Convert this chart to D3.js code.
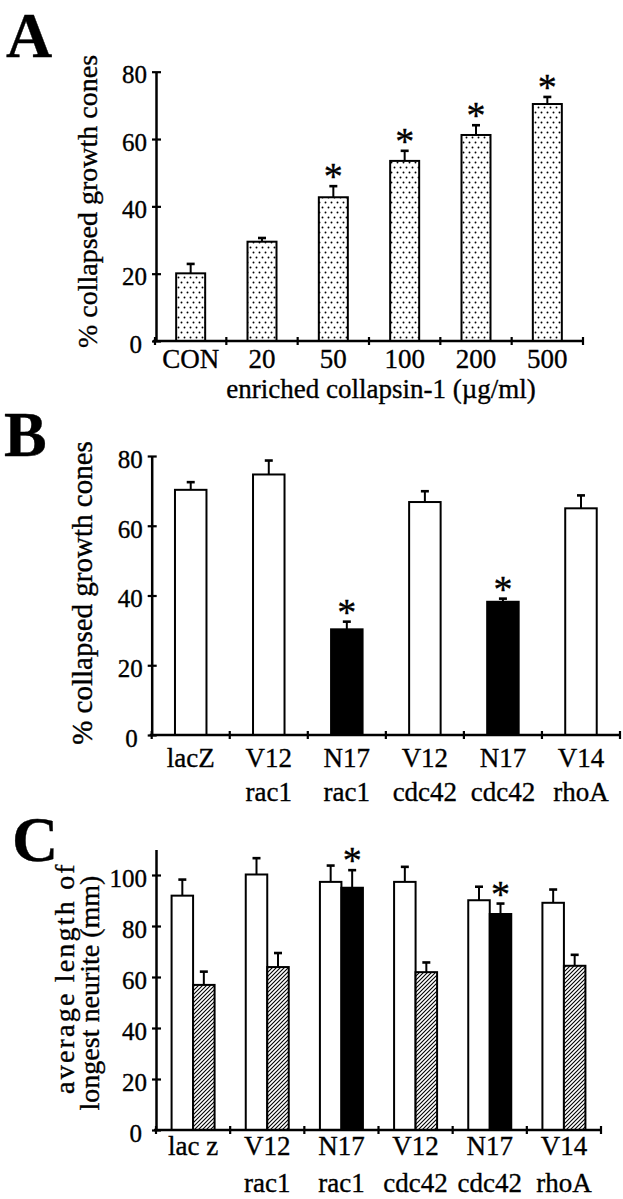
<!DOCTYPE html>
<html><head><meta charset="utf-8">
<script src="https://cdn.jsdelivr.net/npm/d3@7"></script>
<style>
body{margin:0;background:#fff}
svg{display:block}
text{font-family:"Liberation Serif","Times New Roman",serif;fill:#000;stroke:#000;stroke-width:0.35px}
</style>
</head><body>
<svg id="c" width="623" height="1199"></svg>
<script>
// ---------- Panel A data ----------
const catsA = ["CON", "20", "50", "100", "200", "500"];
const valsA = [20.1, 29.5, 42.7, 53.5, 61.2, 70.4];
const semA  = [2.8, 1.1, 3.3, 3.0, 2.9, 2.1];
const sigA  = [false, false, true, true, true, true];
const yTicksA = [0, 20, 40, 60, 80];
const yLabelA = "% collapsed growth cones";
const xTitleA = "enriched collapsin-1 (\u00b5g/ml)";

// ---------- Panel B data ----------
const catsB1 = ["lacZ", "V12", "N17", "V12", "N17", "V14"];
const catsB2 = ["", "rac1", "rac1", "cdc42", "cdc42", "rhoA"];
const valsB  = [70.3, 74.7, 30.3, 66.8, 38.2, 65.0];
const semB   = [2.2, 4.0, 2.2, 3.1, 0.9, 3.7];
const kindB  = ["open", "open", "solid", "open", "solid", "open"];
const sigB   = [false, false, true, false, true, false];
const yTicksB = [0, 20, 40, 60, 80];
const yLabelB = "% collapsed growth cones";

// ---------- Panel C data ----------
const catsC1 = ["lac z", "V12", "N17", "V12", "N17", "V14"];
const catsC2 = ["", "rac1", "rac1", "cdc42", "cdc42", "rhoA"];
const ctrlC  = [91.9, 100.2, 97.3, 97.3, 90.1, 89.1];
const semCtrlC = [6.3, 6.4, 6.4, 5.9, 5.3, 5.2];
const trtC   = [56.9, 63.9, 95.0, 61.9, 84.7, 64.4];
const semTrtC  = [5.2, 5.5, 6.9, 3.8, 4.1, 4.3];
const kindTrtC = ["hatch", "hatch", "solid", "hatch", "solid", "hatch"];
const sigTrtC  = [false, false, true, false, true, false];
const yTicksC = [0, 20, 40, 60, 80, 100];
const yLabelC = ["average length of", "longest neurite (mm)"];

// ---------- drawing ----------
const svg = d3.select("#c");
svg.append("rect").attr("width", 623).attr("height", 1199).attr("fill", "#fff");
const defs = svg.append("defs");
const dots = defs.append("pattern").attr("id", "dots").attr("patternUnits", "userSpaceOnUse")
  .attr("width", 6).attr("height", 10);
dots.append("rect").attr("width", 6).attr("height", 10).attr("fill", "#fff");
dots.append("circle").attr("cx", 1.5).attr("cy", 2.5).attr("r", 0.95).attr("fill", "#000");
dots.append("circle").attr("cx", 4.5).attr("cy", 7.5).attr("r", 0.95).attr("fill", "#000");
const hatch = defs.append("pattern").attr("id", "hatch").attr("patternUnits", "userSpaceOnUse")
  .attr("width", 4).attr("height", 4);
hatch.append("rect").attr("width", 4).attr("height", 4).attr("fill", "#fff");
hatch.append("path").attr("d", "M-1,1 l2,-2 M0,4 l4,-4 M3,5 l2,-2")
  .attr("stroke", "#000").attr("stroke-width", 1.1);

const fillOf = k => ({open: "#fff", solid: "#000", hatch: "url(#hatch)", dots: "url(#dots)"})[k];

function panelLetter(t, x, y) {
  svg.append("text").attr("x", x).attr("y", y).attr("font-size", 64).attr("font-weight", "bold").text(t);
}

function yAxis(y, ticks, x0) {
  const g = svg.append("g").attr("transform", `translate(${x0},0)`)
    .call(d3.axisLeft(y).tickValues(ticks).tickSize(4).tickSizeOuter(0).tickPadding(5));
  g.select(".domain").attr("stroke", "#000").attr("stroke-width", 2.5);
  g.selectAll(".tick line").attr("x1", -4).attr("x2", 5).attr("stroke", "#000").attr("stroke-width", 2.2);
  g.selectAll(".tick text").attr("font-size", 25).attr("font-family", '"Liberation Serif","Times New Roman",serif')
    .attr("dy", "0.45em").attr("dx", d => d === 0 ? -5 : 0);
  return g;
}

function xAxis(x, yPix, line1, line2, off1, off2) {
  const [r0, r1] = x.range();
  svg.append("line").attr("x1", r0 - 2).attr("x2", r1).attr("y1", yPix).attr("y2", yPix)
    .attr("stroke", "#000").attr("stroke-width", 2.5);
  const bounds = d3.range(x.domain().length + 1).map(i => r0 + i * x.step());
  svg.append("g").selectAll("line").data(bounds).join("line")
    .attr("x1", d => d).attr("x2", d => d).attr("y1", yPix - 4).attr("y2", yPix + 4)
    .attr("stroke", "#000").attr("stroke-width", 2.2);
  const g = svg.append("g").attr("font-size", 27).attr("text-anchor", "middle");
  x.domain().forEach((c, i) => {
    const cx = x(c) + x.bandwidth() / 2;
    g.append("text").attr("x", cx).attr("y", yPix + off1).text(line1[i]);
    if (line2 && line2[i]) g.append("text").attr("x", cx).attr("y", yPix + off2).text(line2[i]);
  });
}

function bar(cx, w, y, v, e, fill, star) {
  const y0 = y(0);
  svg.append("rect").attr("x", cx - w / 2).attr("y", y(v)).attr("width", w).attr("height", y0 - y(v))
    .attr("fill", fill).attr("stroke", "#000").attr("stroke-width", 2);
  svg.append("line").attr("x1", cx).attr("x2", cx).attr("y1", y(v)).attr("y2", y(v + e))
    .attr("stroke", "#000").attr("stroke-width", 2);
  svg.append("line").attr("x1", cx - 4).attr("x2", cx + 4).attr("y1", y(v + e)).attr("y2", y(v + e))
    .attr("stroke", "#000").attr("stroke-width", 2.6);
  if (star) svg.append("text").attr("x", cx).attr("y", y(v + e) + 3).attr("text-anchor", "middle")
    .attr("font-size", 38).text("*");
}

function yTitle(lines, xs, cys, size, spacing) {
  lines.forEach((t, i) => {
    svg.append("text").attr("transform", `translate(${xs[i]},${cys[i]}) rotate(-90)`)
      .attr("text-anchor", "middle").attr("font-size", size)
      .attr("letter-spacing", spacing[i]).text(t);
  });
}

// ----- Panel A -----
{
  const x = d3.scaleBand().domain(catsA).range([155, 583]);
  const y = d3.scaleLinear().domain([0, 80]).range([341, 71.7]);
  catsA.forEach((c, i) => bar(x(c) + x.bandwidth() / 2, 29, y, valsA[i], semA[i], fillOf("dots"), sigA[i]));
  yAxis(y, yTicksA, 156);
  xAxis(x, 341, catsA, null, 27, 0);
  svg.append("text").attr("x", 381).attr("y", 398).attr("text-anchor", "middle").attr("font-size", 27).text(xTitleA);
  yTitle([yLabelA], [97], [201.5], 28, [0]);
  panelLetter("A", 6, 57);
}

// ----- Panel B -----
{
  const idx = d3.range(catsB1.length);
  const x = d3.scaleBand().domain(idx).range([151.7, 620]);
  const y = d3.scaleLinear().domain([0, 80]).range([735, 456]);
  idx.forEach(i => bar(x(i) + x.bandwidth() / 2, 31.5, y, valsB[i], semB[i], fillOf(kindB[i]), sigB[i]));
  yAxis(y, yTicksB, 151.7);
  xAxis(x, 735, catsB1, catsB2, 32, 66);
  yTitle([yLabelB], [92], [593], 29, [0]);
  panelLetter("B", 4, 456);
}

// ----- Panel C -----
{
  const idx = d3.range(catsC1.length);
  const x = d3.scaleBand().domain(idx).range([156, 601]);
  const y = d3.scaleLinear().domain([0, 110]).range([1130, 849.5]);
  const w = 21.5;
  idx.forEach(i => {
    const cx = x(i) + x.bandwidth() / 2;
    bar(cx - w / 2, w, y, ctrlC[i], semCtrlC[i], fillOf("open"), false);
    bar(cx + w / 2, w, y, trtC[i], semTrtC[i], fillOf(kindTrtC[i]), sigTrtC[i]);
  });
  yAxis(y, yTicksC, 156);
  xAxis(x, 1130, catsC1, catsC2, 25, 62);
  yTitle(yLabelC, [74, 99], [978, 993], 28, [2.2, 0]);
  panelLetter("C", 12, 861);
}
</script>
</body></html>
